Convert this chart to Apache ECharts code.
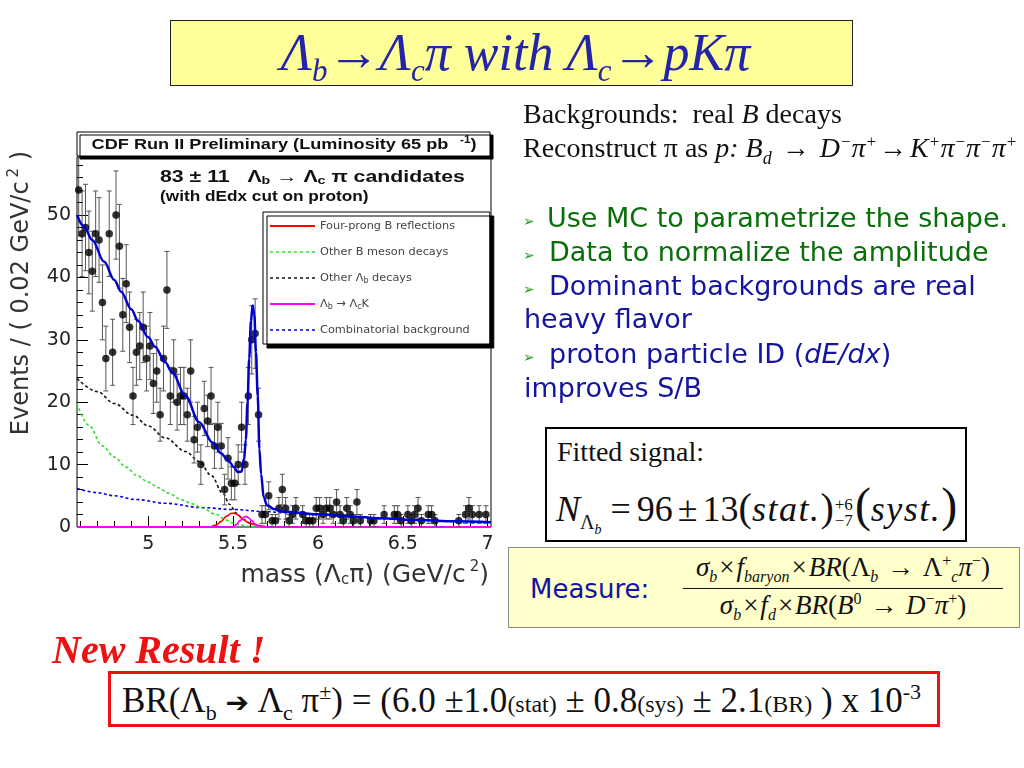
<!DOCTYPE html>
<html><head><meta charset="utf-8">
<script src="https://cdn.jsdelivr.net/npm/echarts@6/dist/echarts.min.js"></script>
<style>
html,body{margin:0;padding:0;background:#fff;}
#wrap{position:relative;width:1024px;height:768px;overflow:hidden;background:#fff;}
#chart{position:absolute;left:0;top:0;width:1024px;height:768px;}
.t{position:absolute;white-space:nowrap;line-height:1;}
.serif{font-family:'Liberation Serif','Times New Roman',serif;}
.sans{font-family:'DejaVu Sans',Verdana,sans-serif;}
sub,sup{line-height:0;}
.box{position:absolute;box-sizing:border-box;}
.g{color:#0A6E0A;}
.b{color:#1414A0;}
.bul{position:absolute;font-family:'DejaVu Sans',sans-serif;font-size:14px;color:#22A022;line-height:1;}
.x{margin:0 2px;}
</style></head>
<body><div id="wrap">
<div id="chart"></div>

<!-- title -->
<div class="box" style="left:170px;top:20px;width:683px;height:66px;background:#FFFF99;border:1px solid #222;"></div>
<div class="t serif" style="left:174px;width:683px;text-align:center;top:27px;font-size:52px;font-style:italic;color:#2424A8;">Λ<sub style="font-size:31px">b</sub>→Λ<sub style="font-size:31px">c</sub>π with Λ<sub style="font-size:31px">c</sub>→pKπ</div>

<!-- right text -->
<div class="t serif" style="left:523px;top:100px;font-size:28px;color:#111;">Backgrounds:&nbsp; real <i>B</i> decays</div>
<div class="t serif" style="left:523px;top:134px;font-size:28px;color:#111;">Reconstruct π as <i>p:</i> <i>B<sub style="font-size:18px">d</sub></i> <span style="margin:0 3px">→</span> <span style="letter-spacing:1px"><i>D</i><sup style="font-size:17px">−</sup><i>π</i><sup style="font-size:17px">+</sup><span style="margin:0 2px">→</span><i>K</i><sup style="font-size:17px">+</sup><i>π</i><sup style="font-size:17px">−</sup><i>π</i><sup style="font-size:17px">−</sup><i>π</i><sup style="font-size:17px">+</sup></span></div>

<div class="bul" style="left:523px;top:214px;">➢</div>
<div class="t sans g" style="left:547px;top:204px;font-size:27px;">Use MC to parametrize the shape.</div>
<div class="bul" style="left:523px;top:248px;">➢</div>
<div class="t sans g" style="left:549px;top:238px;font-size:27px;">Data to normalize the amplitude</div>
<div class="bul" style="left:523px;top:282px;">➢</div>
<div class="t sans b" style="left:549px;top:272px;font-size:27px;">Dominant backgrounds are real</div>
<div class="t sans b" style="left:524px;top:305px;font-size:27px;">heavy flavor</div>
<div class="bul" style="left:523px;top:350px;">➢</div>
<div class="t sans b" style="left:549px;top:340px;font-size:27px;">proton particle ID (<i>dE/dx</i>)</div>
<div class="t sans b" style="left:524px;top:374px;font-size:27px;">improves S/B</div>

<!-- fitted signal -->
<div class="box" style="left:545px;top:427px;width:422px;height:115px;border:2px solid #000;background:#fff;"></div>
<div class="t serif" style="left:557px;top:438px;font-size:28px;color:#111;">Fitted signal:</div>
<div class="t serif" style="left:556px;top:481px;font-size:36px;color:#111;"><i>N</i><sub style="font-size:20px">Λ<sub style="font-size:14px"><i>b</i></sub></sub>&nbsp;<span style="margin-right:6px">=</span>96<span style="margin:0 5px">±</span>13<span style="font-size:40px">(</span><i style="letter-spacing:1.5px">stat.</i><span style="font-size:40px">)</span><span style="display:inline-block;vertical-align:middle;font-size:17px;line-height:16px;margin:0 2px 0 1px;"><span style="display:block">+6</span><span style="display:block">−7</span></span><span style="font-size:48px;">(</span><i style="letter-spacing:1.5px">syst.</i><span style="font-size:48px;">)</span></div>

<!-- measure -->
<div class="box" style="left:508px;top:547px;width:512px;height:81px;border:1px solid #888;background:#FFFFCC;"></div>
<div class="t sans b" style="left:530px;top:576px;font-size:26px;">Measure:</div>
<div class="t serif" style="left:683px;width:320px;text-align:center;top:554px;font-size:27px;color:#111;"><i>σ<sub style="font-size:16px">b</sub></i><span class="x">×</span><i>f<sub style="font-size:16px">baryon</sub></i><span class="x">×</span><i>BR</i>(Λ<sub style="font-size:16px"><i>b</i></sub> <span style="margin:0 2px">→</span> Λ<sup style="font-size:16px">+</sup><sub style="font-size:16px"><i>c</i></sub><i>π</i><sup style="font-size:16px">−</sup>)</div>
<div class="box" style="left:683px;top:588px;width:320px;height:1px;background:#111;"></div>
<div class="t serif" style="left:683px;width:320px;text-align:center;top:592px;font-size:27px;color:#111;"><i>σ<sub style="font-size:16px">b</sub></i><span class="x">×</span><i>f<sub style="font-size:16px">d</sub></i><span class="x">×</span><i>BR</i>(<i>B</i><sup style="font-size:16px">0</sup> <span style="margin:0 2px">→</span> <i>D</i><sup style="font-size:16px">−</sup><i>π</i><sup style="font-size:16px">+</sup>)</div>

<!-- new result -->
<div class="t serif" style="left:52px;top:630px;font-size:40px;font-weight:bold;font-style:italic;color:#EE1111;">New Result !</div>
<div class="box" style="left:108px;top:671px;width:832px;height:56px;border:3px solid #EE1111;background:#fff;"></div>
<div class="t serif" style="left:122px;top:683px;font-size:35px;color:#111;">BR(Λ<sub style="font-size:22px">b</sub> <span style="font-family:'DejaVu Sans';font-size:28px;">➔</span> Λ<sub style="font-size:22px">c</sub> π<sup style="font-size:22px">±</sup>) = (6.0 ±1.0<span style="font-size:24px">(stat)</span> ± 0.8<span style="font-size:24px">(sys)</span> ± 2.1<span style="font-size:24px">(BR)</span> ) x 10<sup style="font-size:22px">-3</sup></div>
</div>

<script>
// ---------------- data ----------------
const histMin = 4.58;
const binWidth = 0.02;
// events per 0.02 GeV/c^2 bin, starting at 4.58 GeV/c^2
const counts = [
  54,47,48,44,41,47,46,36,27,47,
  28,50,45,34,39,32,21,28,29,32,
  27,29,23,25,18,27,38,21,25,20,
  21,21,18,25,14,16,10,19,17,21,
  13,16,13,6,11,7,7,10,16,10,
  21,30,31,18,2,2,5,1,1,3,
  6,3,1,2,3,0,2,1,1,1,
  3,3,2,3,3,2,4,2,1,3,
  2,1,4,1,0,0,1,1,0,0,
  2,0,0,2,2,1,0,2,1,2,
  3,1,0,2,2,1,0,0,0,0,
  0,0,1,0,2,3,2,0,2,0,2,0
];
const xMajorTicks = [5, 5.5, 6, 6.5, 7];
const xMinorTicks = [4.6,4.7,4.8,4.9,5.1,5.2,5.3,5.4,5.6,5.7,5.8,5.9,6.1,6.2,6.3,6.4,6.6,6.7,6.8,6.9];
const yMajorTicks = [0, 10, 20, 30, 40, 50];
const yMinorTicks = [2,4,6,8,12,14,16,18,22,24,26,28,32,34,36,38,42,44,46,48,52,54,56,58];

// fitted curves: [mass, events]
const fitTotal = [[4.58,50.0],[4.62,48.2],[4.67,46.0],[4.74,42.5],[4.80,39.6],[4.84,37.7],[4.90,34.9],[4.94,33.0],[5.00,30.4],[5.04,28.9],[5.10,26.4],[5.14,24.8],[5.22,21.0],[5.30,16.8],[5.38,13.5],[5.43,11.8],[5.46,11.0],[5.48,10.4],[5.50,9.7],[5.53,8.8],[5.55,8.9],[5.565,11.0],[5.575,14.0],[5.585,20.0],[5.595,27.0],[5.605,33.0],[5.615,35.5],[5.625,34.0],[5.635,28.0],[5.645,21.0],[5.655,12.5],[5.665,8.5],[5.68,4.8],[5.70,3.5],[5.74,2.9],[5.80,2.45],[6.00,2.05],[6.20,1.7],[6.36,1.4],[6.60,1.12],[6.80,0.92],[7.02,0.76]];
const fourProngRefl = [[4.58,0],[5.36,0],[5.40,0.3],[5.43,0.9],[5.46,1.7],[5.49,2.2],[5.51,2.2],[5.53,1.9],[5.56,1.2],[5.59,0.7],[5.62,0.45],[5.66,0.2],[5.70,0.05],[5.74,0],[7.02,0]];
const otherBMeson = [[4.58,19.8],[4.65,16.3],[4.73,13.0],[4.80,11.2],[4.87,9.6],[4.93,8.3],[5.00,7.2],[5.06,6.3],[5.12,5.4],[5.20,4.3],[5.26,3.7],[5.32,3.0],[5.40,2.0],[5.46,1.1],[5.50,0.6],[5.55,0.3],[5.60,0.1],[5.65,0],[7.02,0]];
const otherLambdaB = [[4.58,23.8],[4.70,21.7],[4.80,19.8],[4.91,17.9],[5.00,16.2],[5.10,14.3],[5.22,12.1],[5.30,10.5],[5.37,8.3],[5.44,5.4],[5.48,3.6],[5.52,2.2],[5.56,1.2],[5.60,0.6],[5.65,0.2],[5.70,0],[7.02,0]];
const lambdaBtoLcK = [[4.58,0],[5.50,0],[5.52,0.4],[5.54,1.0],[5.56,1.5],[5.575,1.7],[5.59,1.5],[5.61,1.0],[5.63,0.45],[5.65,0.15],[5.68,0],[7.02,0]];
const combinatorial = [[4.58,6.2],[4.70,5.5],[4.80,5.0],[4.93,4.4],[5.10,3.8],[5.32,3.1],[5.50,2.8],[5.70,2.45],[5.80,2.3],[6.00,2.0],[6.20,1.65],[6.36,1.35],[6.60,1.1],[6.80,0.9],[7.02,0.75]];

const legendNames = ['Four-prong B reflections','Other B meson decays','Other Λb decays','Λb → ΛcK','Combinatorial background'];

// -------------- build ----------------
const points = [];
counts.forEach(function(n, i){
  if (n > 0) points.push([histMin + binWidth * (i + 0.5), n, Math.sqrt(n)]);
});

const chart = echarts.init(document.getElementById('chart'), null, {renderer:'canvas'});
const sansAxis = 'DejaVu Sans';
const lineCommon = {type:'line', symbol:'none', smooth:0.35, smoothMonotone:'x', silent:true, z:3};
function styled(name, data, color, width, dashed){
  return Object.assign({}, lineCommon, {name:name, data:data, itemStyle:{color:color},
    lineStyle:{color:color, width:width, type: dashed ? [3,2.5] : 'solid'}});
}
const iconSolid = 'path://M0,0H45V1.8H0Z';
const iconDashed = 'path://M0,0H3V1.6H0Z M6,0H9V1.6H6Z M12,0H15V1.6H12Z M18,0H21V1.6H18Z M24,0H27V1.6H24Z M30,0H33V1.6H30Z M36,0H39V1.6H36Z M42,0H45V1.6H42Z';
const legendIcons = [iconSolid, iconDashed, iconDashed, iconSolid, iconDashed];

chart.setOption({
  animation:false,
  grid:{left:77, top:157, right:533, bottom:241, show:true, borderColor:'#000', borderWidth:1, backgroundColor:'#fff'},
  xAxis:[
    {type:'value', min:histMin, max:7.02, position:'bottom',
     axisLine:{show:false}, splitLine:{show:false},
     axisTick:{show:true, inside:true, length:11, customValues:xMajorTicks, lineStyle:{color:'#000'}},
     axisLabel:{show:true, customValues:xMajorTicks, margin:8, fontFamily:sansAxis, fontSize:19, color:'#222'}},
    {type:'value', min:histMin, max:7.02, position:'bottom', gridIndex:0,
     axisLine:{show:false}, splitLine:{show:false}, axisLabel:{show:false},
     axisTick:{show:true, inside:true, length:6, customValues:xMinorTicks, lineStyle:{color:'#000'}}}
  ],
  yAxis:[
    {type:'value', min:0, max:59.3, position:'left',
     axisLine:{show:false}, splitLine:{show:false},
     axisTick:{show:true, inside:true, length:11, customValues:yMajorTicks, lineStyle:{color:'#000'}},
     axisLabel:{show:true, customValues:yMajorTicks, margin:6, fontFamily:sansAxis, fontSize:19, color:'#222'}},
    {type:'value', min:0, max:59.3, position:'left', gridIndex:0,
     axisLine:{show:false}, splitLine:{show:false}, axisLabel:{show:false},
     axisTick:{show:true, inside:true, length:6, customValues:yMinorTicks, lineStyle:{color:'#000'}}}
  ],
  legend:{
    data:legendNames.map(function(n, i){ return {name:n, icon:legendIcons[i]}; }),
    orient:'vertical', left:263, top:212,
    itemWidth:45, itemHeight:14, itemGap:12, symbolKeepAspect:true,
    padding:[7,20,7,7],
    backgroundColor:'#fff', borderColor:'#000', borderWidth:1,
    shadowColor:'#000', shadowBlur:0, shadowOffsetX:4, shadowOffsetY:4,
    selectedMode:false,
    textStyle:{fontFamily:'DejaVu Sans', fontSize:11.3, color:'#444', lineHeight:14,
      rich:{s:{fontFamily:'DejaVu Sans', fontSize:8, color:'#444', padding:[6,0,0,0]}}},
    formatter:function(name){
      if (name === 'Other Λb decays') return 'Other Λ{s|b} decays';
      if (name === 'Λb → ΛcK') return 'Λ{s|b} → Λ{s|c}K';
      return name;
    }
  },
  graphic:[
    {type:'rect', shape:{x:77, y:132, width:413, height:24}, z:10,
     style:{fill:'#fff', stroke:'#000', lineWidth:1, shadowColor:'#000', shadowBlur:0, shadowOffsetX:3, shadowOffsetY:3}},
    {type:'text', x:284, y:145, z:11, scaleX:1.17,
     style:{text:'CDF Run II Preliminary (Luminosity 65 pb{p|-1})', fill:'#111', align:'center', verticalAlign:'middle',
       font:'bold 15.5px "Liberation Sans"', rich:{p:{font:'bold 10px "Liberation Sans"', padding:[0,0,10,10]}}}},
    {type:'text', x:160, y:177, z:11, scaleX:1.29,
     style:{text:'83 ± 11   Λ{s|b} → Λ{s|c} π candidates', fill:'#111', align:'left', verticalAlign:'middle',
       font:'bold 16.5px "Liberation Sans"', rich:{s:{font:'bold 11px "Liberation Sans"', padding:[8,0,0,0]}}}},
    {type:'text', x:160, y:197, z:11, scaleX:1.23,
     style:{text:'(with dEdx cut on proton)', fill:'#111', align:'left', verticalAlign:'middle',
       font:'bold 14px "Liberation Sans"'}},
    {type:'text', x:22, y:293, rotation:Math.PI/2, z:11,
     style:{text:'Events / ( 0.02 GeV/c{p|2} )', fill:'#333', align:'center', verticalAlign:'middle',
       font:'24px "DejaVu Sans"', rich:{p:{font:'15px "DejaVu Sans"', padding:[0,0,16,4]}}}},
    {type:'text', x:489, y:575, z:11,
     style:{text:'mass (Λ{s|c}π) (GeV/c{p|2})', fill:'#333', align:'right', verticalAlign:'middle',
       font:'25px "DejaVu Sans"', rich:{s:{font:'15px "DejaVu Sans"', padding:[11,0,0,0]}, p:{font:'15px "DejaVu Sans"', padding:[0,0,16,4]}}}}
  ],
  series:[
    styled('Combinatorial background', combinatorial, '#0000EE', 1.6, true),
    styled('Other B meson decays', otherBMeson, '#33DD33', 1.6, true),
    styled('Other Λb decays', otherLambdaB, '#111111', 1.6, true),
    styled('Four-prong B reflections', fourProngRefl, '#FF0000', 1.6, false),
    styled('Λb → ΛcK', lambdaBtoLcK, '#FF00FF', 1.8, false),
    {type:'custom', name:'errors', data:points, clip:true, silent:true, z:4,
     encode:{x:0, y:1},
     renderItem:function(params, api){
       const x = api.value(0), y = api.value(1), e = api.value(2);
       const p1 = api.coord([x, y + e]);
       const p2 = api.coord([x, Math.max(0, y - e)]);
       const cap = 2.5;
       const st = {stroke:'#555', lineWidth:1};
       return {type:'group', children:[
         {type:'line', shape:{x1:p1[0], y1:p1[1], x2:p2[0], y2:p2[1]}, style:st},
         {type:'line', shape:{x1:p1[0]-cap, y1:p1[1], x2:p1[0]+cap, y2:p1[1]}, style:st},
         {type:'line', shape:{x1:p2[0]-cap, y1:p2[1], x2:p2[0]+cap, y2:p2[1]}, style:st}
       ]};
     }},
    {type:'scatter', name:'data', data:points.map(function(p){return [p[0], p[1]];}), symbol:'circle', symbolSize:7.5,
     itemStyle:{color:'#000'}, silent:true, z:5},
    Object.assign({}, lineCommon, {name:'Total fit', data:fitTotal, itemStyle:{color:'#0000D0'}, lineStyle:{color:'#0000D0', width:2.5}, z:6})
  ]
});
</script>
</body></html>
